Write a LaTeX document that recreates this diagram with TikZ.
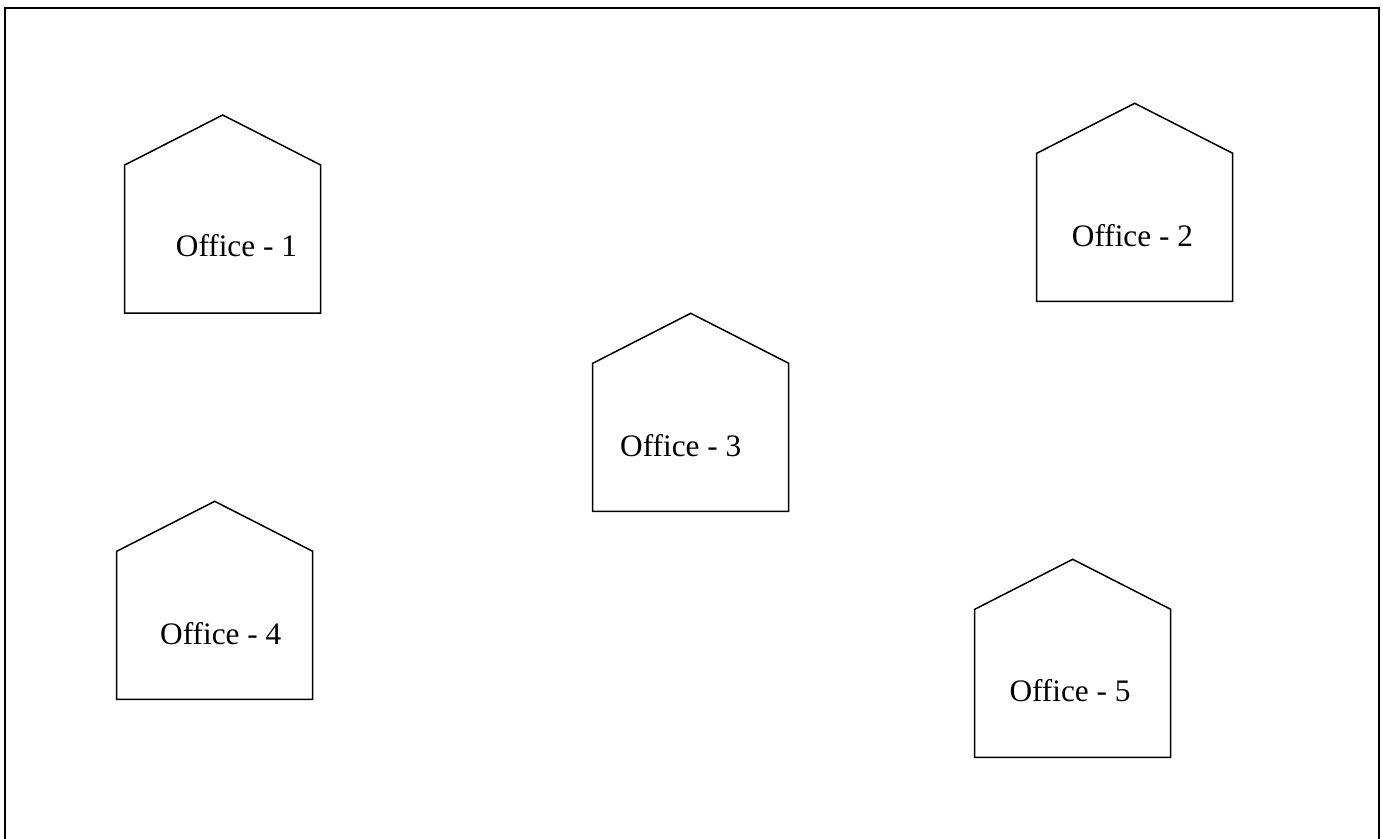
\documentclass[tikz,border=0pt]{standalone}
\usepackage{fontspec}
\setmainfont{Liberation Serif}
\begin{document}
\begin{tikzpicture}[x=1pt,y=-1pt,
  houseline/.style={draw=black,line width=1.5pt,line join=miter},
  frameline/.style={draw=black,line width=2.6pt},
  officelabel/.style={anchor=base west,inner sep=0pt,font=\fontsize{31.3}{36}\selectfont},
  pics/office/.style={code={
    \draw[houseline] (0,0) -- (0,-148) -- (98,-198) -- (196,-148) -- (196,0) -- cycle;
  }}]
\useasboundingbox (0,0) rectangle (1383,838);
% outer frame, its lower edge runs past the page
\begin{scope}
  \clip (0,0) rectangle (1383,838);
  \draw[frameline] (5,8) rectangle (1379,850);
\end{scope}
% the five offices
\pic (h1) at (124.7,313) {office};
\pic (h2) at (1036.7,301.3) {office};
\pic (h3) at (592.7,511.3) {office};
\pic (h4) at (116.7,699.3) {office};
\pic (h5) at (974.7,757.3) {office};
\node[officelabel] (t1) at (175.7,256.7) {Office - 1};
\node[officelabel] (t2) at (1071.7,246.7) {Office - 2};
\node[officelabel] (t3) at (620,456.7) {Office - 3};
\node[officelabel] (t4) at (160,644) {Office - 4};
\node[officelabel] (t5) at (1009.3,701.3) {Office - 5};
\end{tikzpicture}
\end{document}
